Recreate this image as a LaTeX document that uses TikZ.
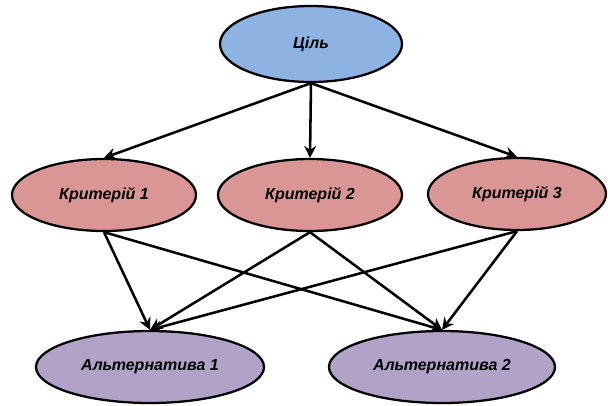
\documentclass[tikz,border=0pt]{standalone}
\usepackage{fontspec}
\setmainfont{Liberation Sans}
\usetikzlibrary{shapes.geometric,arrows.meta}
\definecolor{goalblue}{HTML}{8DB3E2}
\definecolor{critred}{HTML}{D99694}
\definecolor{altviolet}{HTML}{B3A2C7}
\tikzset{
  oval/.style={ellipse, draw=black, line width=1.7pt, inner sep=0pt,
    font=\fontsize{12}{14}\selectfont\bfseries\itshape},
  link/.style={line width=1.9pt, -{Stealth[length=9pt,width=9pt,inset=3pt]}}
}
\begin{document}
\begin{tikzpicture}[x=0.75pt,y=-0.75pt]
\useasboundingbox (0,0) rectangle (608,405);
\node[oval, fill=goalblue, minimum width=136.5pt, minimum height=57pt] (g) at (311,44) {Ціль};
\node[oval, fill=critred, minimum width=138pt, minimum height=54pt] (c1) at (104,195) {Критерій 1};
\node[oval, fill=critred, minimum width=138pt, minimum height=54pt] (c2) at (310,195) {Критерій 2};
\node[oval, fill=critred, minimum width=133.5pt, minimum height=54pt] (c3) at (517,194) {Критерій 3};
\node[oval, fill=altviolet, minimum width=171pt, minimum height=54pt] (a1) at (150,367) {Альтернатива 1};
\node[oval, fill=altviolet, minimum width=169.5pt, minimum height=54pt] (a2) at (442,367) {Альтернатива 2};
\draw[link] (g.south) -- (c1.north);
\draw[link] (g.south) -- (c2.north);
\draw[link] (g.south) -- (c3.north);
\draw[link] (c1.south) -- (a1.north);
\draw[link] (c1.south) -- (a2.north);
\draw[link] (c2.south) -- (a1.north);
\draw[link] (c2.south) -- (a2.north);
\draw[link] (c3.south) -- (a1.north);
\draw[link] (c3.south) -- (a2.north);
\end{tikzpicture}
\end{document}
